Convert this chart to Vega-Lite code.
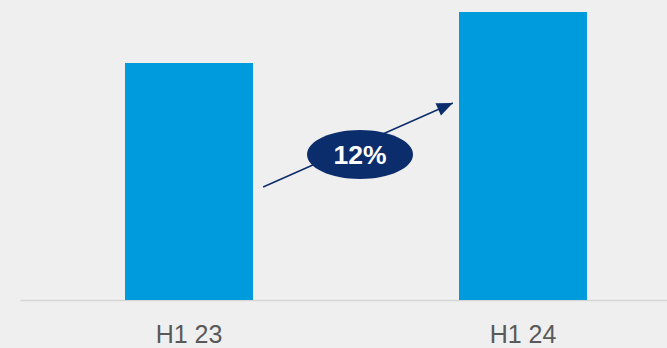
{
  "$schema": "https://vega.github.io/schema/vega-lite/v6.json",
  "width": 647,
  "height": 300,
  "autosize": {"type": "none"},
  "padding": {"left": 20, "top": 0, "right": 0, "bottom": 48},
  "background": "#efefef",
  "config": {"view": {"stroke": null}, "font": "Liberation Sans"},
  "layer": [
    {
      "data": {"values": [
        {"period": "H1 23", "value": 237},
        {"period": "H1 24", "value": 288}
      ]},
      "mark": {"type": "bar", "color": "#009bdd"},
      "encoding": {
        "x": {
          "field": "period", "type": "nominal", "sort": null,
          "scale": {"range": [0, 672], "paddingInner": 0.6168, "paddingOuter": 0.3144},
          "axis": {
            "title": null, "ticks": false, "grid": false,
            "domainColor": "#d6d6d6", "domainWidth": 1.5,
            "labelFontSize": 25, "labelColor": "#595959", "labelPadding": 22,
            "labelAngle": 0, "labelFont": "Liberation Sans"
          }
        },
        "y": {"field": "value", "type": "quantitative", "scale": {"domain": [0, 300]}, "axis": null}
      }
    },
    {
      "data": {"values": [{"x0": 0.222, "y0": 113, "x1": 0.79, "y1": 197}]},
      "layer": [
        {
          "mark": {"type": "rule", "color": "#0c2d6b", "strokeWidth": 1.5},
          "encoding": {
            "x": {"field": "x0", "type": "quantitative", "scale": {"domain": [-0.50599, 1.43114]}, "axis": null},
            "y": {"field": "y0", "type": "quantitative"},
            "x2": {"field": "x1"},
            "y2": {"field": "y1"}
          }
        },
        {
          "mark": {"type": "point", "filled": true, "color": "#0c2d6b", "opacity": 1,
                   "shape": "M 0 0 L 0.42 1 L -0.42 1 Z", "size": 1024, "angle": 66.15},
          "encoding": {
            "x": {"field": "x1", "type": "quantitative", "scale": {"domain": [-0.50599, 1.43114]}, "axis": null},
            "y": {"field": "y1", "type": "quantitative"}
          }
        }
      ]
    },
    {
      "data": {"values": [{"cx": 0.512, "cy": 145.5, "label": "12%"}]},
      "layer": [
        {
          "mark": {"type": "point", "filled": true, "color": "#0c2d6b", "opacity": 1,
                   "shape": "M -1 0 C -1 -0.255 -0.552 -0.462 0 -0.462 C 0.552 -0.462 1 -0.255 1 0 C 1 0.255 0.552 0.462 0 0.462 C -0.552 0.462 -1 0.255 -1 0 Z",
                   "size": 11236},
          "encoding": {
            "x": {"field": "cx", "type": "quantitative", "scale": {"domain": [-0.50599, 1.43114]}, "axis": null},
            "y": {"field": "cy", "type": "quantitative"}
          }
        },
        {
          "mark": {"type": "text", "color": "#ffffff", "fontSize": 26.5, "fontWeight": "bold",
                   "font": "Liberation Sans", "align": "center", "baseline": "middle", "dy": 1},
          "encoding": {
            "x": {"field": "cx", "type": "quantitative", "scale": {"domain": [-0.50599, 1.43114]}, "axis": null},
            "y": {"field": "cy", "type": "quantitative"},
            "text": {"field": "label"}
          }
        }
      ]
    }
  ],
  "resolve": {"scale": {"x": "independent"}}
}
